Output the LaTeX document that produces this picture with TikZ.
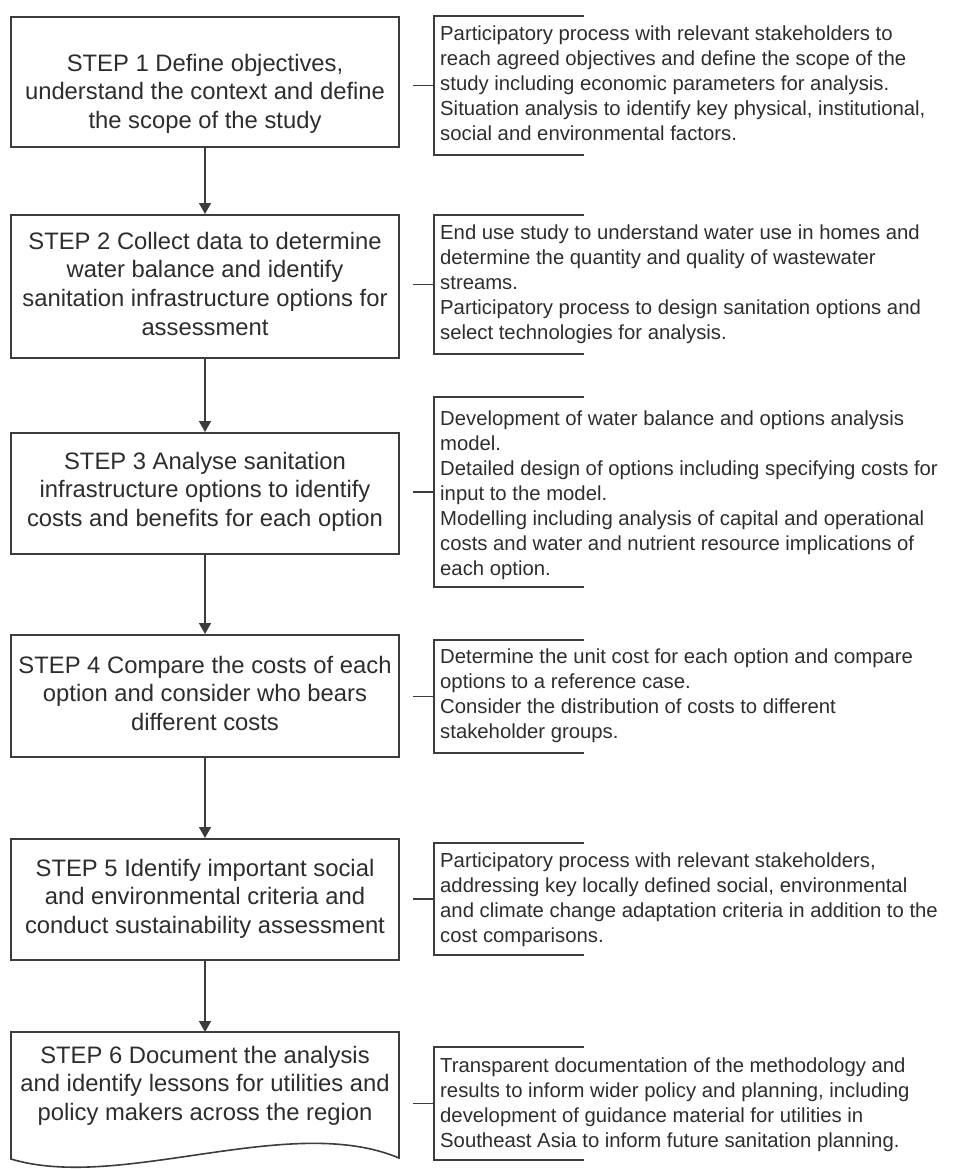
\documentclass[tikz,border=0pt]{standalone}
\usepackage{fontspec}
\setmainfont{Liberation Sans}
\usetikzlibrary{arrows.meta}
\definecolor{ln}{RGB}{60,60,60}
\definecolor{tx}{RGB}{45,45,45}
\newcommand\mystL{\rule{0pt}{20pt}}
\newcommand\mystR{\rule{0pt}{18pt}}
\tikzset{
 stepbox/.style={draw=ln, line width=1.6pt, fill=white, minimum width=388pt, inner sep=0pt, anchor=north},
 steptext/.style={anchor=north, align=center, inner sep=0pt, text=tx, font=\fontsize{23.8}{28.7}\selectfont},
 notetext/.style={anchor=north west, align=left, inner sep=0pt, text=tx, font=\fontsize{20.3}{25}\selectfont},
 brk/.style={draw=ln, line width=1.4pt},
 arr/.style={draw=ln, line width=1.6pt, -{Triangle[width=12pt,length=11pt]}},
}
\begin{document}
\begin{tikzpicture}[x=1pt,y=-1pt]
\useasboundingbox (0,0) rectangle (967,1169);
% step boxes
\node[stepbox, minimum height=130pt] (s1) at (205,16) {};
\node[stepbox, minimum height=143pt] (s2) at (205,214) {};
\node[stepbox, minimum height=121pt] (s3) at (205,432) {};
\node[stepbox, minimum height=122pt] (s4) at (205,634) {};
\node[stepbox, minimum height=121pt] (s5) at (205,838) {};
\draw[draw=ln, line width=1.6pt, fill=white] (11,1032) -- (399,1032) -- (399,1158)
  .. controls (290,1112) and (120,1192) .. (11,1159) -- cycle;
\coordinate (s6) at (205,1032);
% step texts
\node[steptext] (t1) at (205,51) {\mystL STEP 1 Define objectives,\\ understand the context and define\\ the scope of the study};
\node[steptext] (t2) at (205,229) {\mystL STEP 2 Collect data to determine\\ water balance and identify\\ sanitation infrastructure options for\\ assessment};
\node[steptext] (t3) at (205,449) {\mystL STEP 3 Analyse sanitation\\ infrastructure options to identify\\ costs and benefits for each option};
\node[steptext] (t4) at (205,653) {\mystL STEP 4 Compare the costs of each\\ option and consider who bears\\ different costs};
\node[steptext] (t5) at (205,856) {\mystL STEP 5 Identify important social\\ and environmental criteria and\\ conduct sustainability assessment};
\node[steptext] (t6) at (205,1043) {\mystL STEP 6 Document the analysis\\ and identify lessons for utilities and\\ policy makers across the region};
% arrows
\draw[arr] (s1.south) -- (s2.north);
\draw[arr] (s2.south) -- (s3.north);
\draw[arr] (s3.south) -- (s4.north);
\draw[arr] (s4.south) -- (s5.north);
\draw[arr] (s5.south) -- (s6);
% brackets
\foreach \tp/\bt in {16/155, 215/354, 397/587, 640/753, 843/955, 1047/1160}{
  \draw[brk] (584,\tp) -| (434,\bt) -- (584,\bt);
  \draw[brk] (413,{(\tp+\bt)/2}) -- (434,{(\tp+\bt)/2});
}
% notes
\node[notetext] (n1) at (440,22) {\mystR Participatory process with relevant stakeholders to\\ reach agreed objectives and define the scope of the\\ study including economic parameters for analysis.\\ Situation analysis to identify key physical, institutional,\\ social and environmental factors.};
\node[notetext] (n2) at (440,221) {\mystR End use study to understand water use in homes and\\ determine the quantity and quality of wastewater\\ streams.\\ Participatory process to design sanitation options and\\ select technologies for analysis.};
\node[notetext] (n3) at (440,407) {\mystR Development of water balance and options analysis\\ model.\\ Detailed design of options including specifying costs for\\ input to the model.\\ Modelling including analysis of capital and operational\\ costs and water and nutrient resource implications of\\ each option.};
\node[notetext] (n4) at (440,645) {\mystR Determine the unit cost for each option and compare\\ options to a reference case.\\ Consider the distribution of costs to different\\ stakeholder groups.};
\node[notetext] (n5) at (440,849) {\mystR Participatory process with relevant stakeholders,\\ addressing key locally defined social, environmental\\ and climate change adaptation criteria in addition to the\\ cost comparisons.};
\node[notetext] (n6) at (440,1054) {\mystR Transparent documentation of the methodology and\\ results to inform wider policy and planning, including\\ development of guidance material for utilities in\\ Southeast Asia to inform future sanitation planning.};
\end{tikzpicture}
\end{document}
